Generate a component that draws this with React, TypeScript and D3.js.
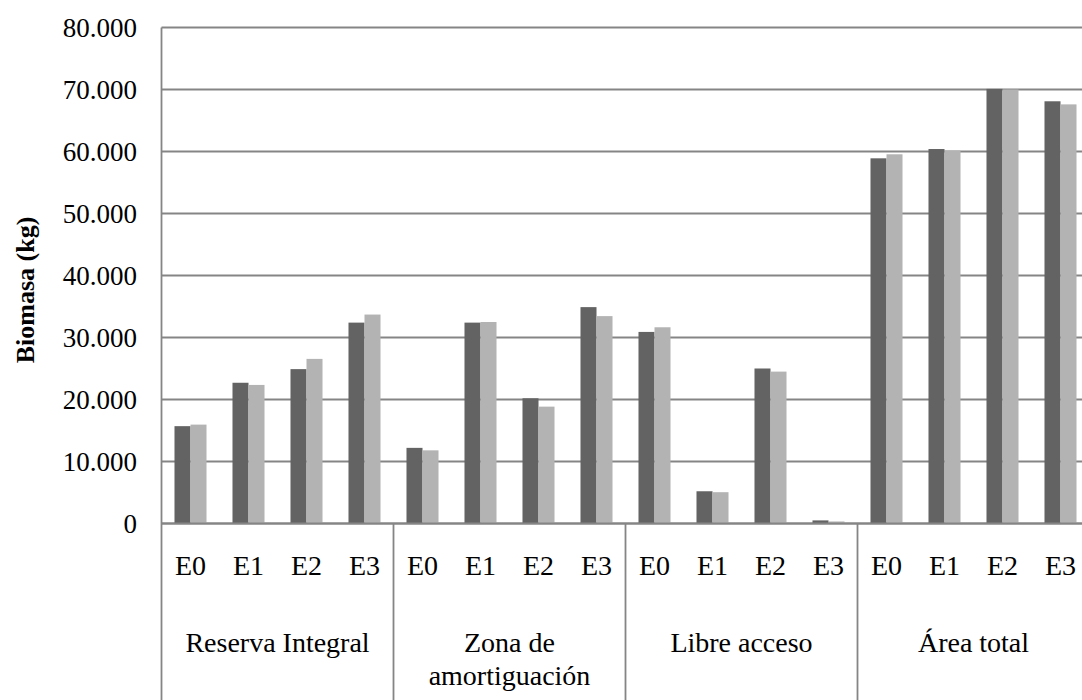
import { useEffect, useRef } from 'react';
import * as d3 from 'd3';

const groups = ['Reserva Integral', 'Zona de amortiguación', 'Libre acceso', 'Área total'];
const groupLines = [['Reserva Integral'], ['Zona de', 'amortiguación'], ['Libre acceso'], ['Área total']];
const stages = ['E0', 'E1', 'E2', 'E3'];

// dark series, then light series (kg), one value per group x stage
const seriesDark = [
  15700, 22700, 24900, 32400,
  12200, 32400, 20200, 34900,
  30900, 5200, 25000, 500,
  58900, 60400, 70100, 68100,
];
const seriesLight = [
  15950, 22350, 26550, 33700,
  11800, 32500, 18850, 33450,
  31650, 5050, 24500, 330,
  59550, 60150, 70000, 67600,
];
const yTicks = [0, 10000, 20000, 30000, 40000, 50000, 60000, 70000, 80000];

const WIDTH = 1082;
const HEIGHT = 700;

export default function App() {
  const ref = useRef<SVGSVGElement>(null);

  useEffect(() => {
    if (!ref.current) return;
    const svg = d3.select(ref.current);
    svg.selectAll('*').remove();

    const left = 161.5;
    const right = 1089.5;
    const font = 'Liberation Serif, serif';
    const gridColor = '#858585';

    const esLocale = d3.formatLocale({ decimal: ',', thousands: '.', grouping: [3], currency: ['', ' €'] });
    const fmt = esLocale.format(',d');

    const cats = d3.range(16).map(i => `${i}`);

    const y = d3.scaleLinear().domain([0, 80000]).range([523.5, 27.5]);

    const x0 = d3.scaleBand()
      .domain(cats)
      .range([left, right])
      .paddingInner(0.448)
      .paddingOuter(0.224);

    const keys = ['dark', 'light'];
    const colors = ['#636363', '#b3b3b3'];
    const x1 = d3.scaleBand().domain(keys).range([0, x0.bandwidth()]).padding(0);

    const xg = d3.scaleBand()
      .domain(groups)
      .range([left, right]);

    // Grid lines
    svg.append('g')
      .selectAll('line')
      .data(yTicks)
      .enter().append('line')
      .attr('x1', left)
      .attr('x2', WIDTH)
      .attr('y1', d => y(d))
      .attr('y2', d => y(d))
      .attr('stroke', gridColor)
      .attr('stroke-width', 1.8);

    // Y tick labels
    svg.append('g')
      .selectAll('text')
      .data(yTicks)
      .enter().append('text')
      .attr('x', 137)
      .attr('y', d => y(d))
      .attr('dy', '0.35em')
      .attr('text-anchor', 'end')
      .style('font-family', font)
      .style('font-size', '27px')
      .attr('fill', '#000')
      .text(d => fmt(d));

    // Bars
    const cat = svg.append('g')
      .selectAll('g')
      .data(cats)
      .enter().append('g')
      .attr('transform', d => `translate(${x0(d)},0)`);

    cat.selectAll('rect')
      .data(d => {
        const i = +d;
        return [
          { key: 'dark', value: seriesDark[i], color: colors[0] },
          { key: 'light', value: seriesLight[i], color: colors[1] },
        ];
      })
      .enter().append('rect')
      .attr('x', d => x1(d.key)!)
      .attr('width', x1.bandwidth())
      .attr('y', d => y(d.value))
      .attr('height', d => y(0) - y(d.value))
      .attr('fill', d => d.color);

    // Axis lines
    svg.append('line')
      .attr('x1', left).attr('x2', WIDTH)
      .attr('y1', y(0)).attr('y2', y(0))
      .attr('stroke', gridColor).attr('stroke-width', 2);

    svg.append('g')
      .selectAll('line')
      .data(groups)
      .enter().append('line')
      .attr('x1', d => xg(d)!)
      .attr('x2', d => xg(d)!)
      .attr('y1', (d, i) => (i === 0 ? y(80000) : y(0)))
      .attr('y2', HEIGHT)
      .attr('stroke', gridColor)
      .attr('stroke-width', 1.8);

    // Stage labels
    svg.append('g')
      .selectAll('text')
      .data(cats)
      .enter().append('text')
      .attr('x', d => x0(d)! + x0.bandwidth() / 2)
      .attr('y', 565)
      .attr('dy', '0.35em')
      .attr('text-anchor', 'middle')
      .style('font-family', font)
      .style('font-size', '28px')
      .attr('fill', '#000')
      .text(d => stages[+d % 4]);

    // Group labels
    const gl = svg.append('g')
      .selectAll('text')
      .data(groups)
      .enter().append('text')
      .attr('x', d => xg(d)! + xg.bandwidth() / 2)
      .attr('y', 642)
      .attr('text-anchor', 'middle')
      .style('font-family', font)
      .style('font-size', '28px')
      .attr('fill', '#000');

    gl.selectAll('tspan')
      .data((d, i) => groupLines[i])
      .enter().append('tspan')
      .attr('x', function () {
        return (this as SVGTSpanElement).parentElement!.getAttribute('x');
      })
      .attr('dy', (d, i) => (i === 0 ? '0.35em' : '1.18em'))
      .text(d => d);

    // Y title
    svg.append('text')
      .attr('transform', `translate(34,290) rotate(-90)`)
      .attr('text-anchor', 'middle')
      .style('font-family', font)
      .style('font-size', '26px')
      .style('font-weight', 'bold')
      .attr('fill', '#000')
      .text('Biomasa (kg)');
  }, []);

  return (
    <svg
      ref={ref}
      width={WIDTH}
      height={HEIGHT}
      style={{ position: 'absolute', left: 0, top: 0, background: '#fff', display: 'block' }}
    />
  );
}
